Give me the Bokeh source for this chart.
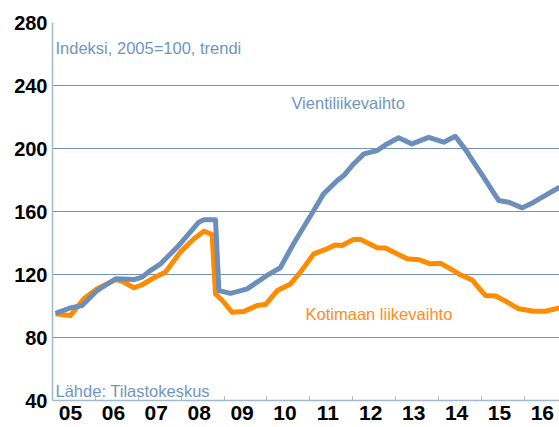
from bokeh.plotting import figure
from bokeh.models import FixedTicker, Label, Range1d
from bokeh.embed import file_html
from bokeh.resources import INLINE

# Vientiliikevaihto (export turnover), decimal year / index
export_t = [2005.07, 2005.42, 2005.69, 2006.04, 2006.47, 2006.90, 2007.09, 2007.28, 2007.52,
            2007.91, 2008.18, 2008.41, 2008.53, 2008.80, 2008.88, 2009.15, 2009.54, 2010.00,
            2010.31, 2010.62, 2011.09, 2011.32, 2011.64, 2011.79, 2012.02, 2012.26, 2012.57,
            2012.80, 2013.07, 2013.38, 2013.77, 2014.12, 2014.39, 2014.67, 2014.74, 2015.05,
            2015.40, 2015.64, 2015.95, 2016.22, 2016.49, 2016.82]
export_v = [95.4, 98.8, 100.3, 109.8, 117.3, 116.8, 118.3, 122.5, 126.8,
            137.4, 145.9, 153.2, 154.7, 154.7, 109.8, 108.0, 110.9, 119.4,
            124.3, 139.5, 160.6, 171.2, 179.7, 182.8, 190.2, 196.6, 198.7,
            202.9, 206.8, 202.9, 207.1, 204.0, 207.8, 197.7, 194.5, 181.8,
            167.0, 165.9, 162.3, 165.9, 170.2, 175.4]

# Kotimaan liikevaihto (domestic turnover)
dom_t = [2005.07, 2005.42, 2005.73, 2006.04, 2006.47, 2006.59, 2006.90, 2007.09, 2007.36,
         2007.63, 2007.98, 2008.29, 2008.53, 2008.72, 2008.80, 2008.96, 2009.19, 2009.46,
         2009.77, 2009.97, 2010.24, 2010.55, 2010.78, 2011.09, 2011.40, 2011.60, 2011.75,
         2012.02, 2012.18, 2012.57, 2012.76, 2013.03, 2013.27, 2013.54, 2013.81, 2014.04,
         2014.28, 2014.51, 2014.78, 2015.09, 2015.33, 2015.60, 2015.87, 2016.22, 2016.49,
         2016.82]
dom_v = [95.0, 94.0, 104.6, 110.9, 116.6, 116.2, 111.6, 113.5, 117.9,
         121.5, 134.2, 142.6, 147.5, 145.4, 107.7, 103.5, 96.0, 96.5,
         100.3, 101.0, 109.8, 114.0, 121.5, 133.1, 136.3, 138.8, 138.4,
         142.3, 142.3, 137.0, 136.8, 133.2, 130.0, 129.4, 126.8, 127.2,
         123.6, 119.8, 116.6, 106.7, 106.3, 102.5, 98.2, 96.7, 96.7,
         98.8]

years = list(range(2005, 2017))
year_labels = ["05", "06", "07", "08", "09", "10", "11", "12", "13", "14", "15", "16"]
y_ticks = [40, 80, 120, 160, 200, 240, 280]

BLUE = "#6b8fba"
ORANGE = "#ff8c00"
GRID = "#7593b8"
AXIS = "#a3b7cf"
FONT = "Liberation Sans"

p = figure(width=559, height=427, output_backend="svg", toolbar_location=None,
           x_range=Range1d(2005.0, 2016.82), y_range=Range1d(40, 280),
           min_border_left=52, min_border_right=0, min_border_top=22, min_border_bottom=27)
p.outline_line_color = None
p.background_fill_color = "white"
p.border_fill_color = "white"

label_pos = [y + 0.42 for y in years]
p.xaxis.ticker = FixedTicker(ticks=label_pos, minor_ticks=years[1:])
p.xaxis.major_label_overrides = {pos: lab for pos, lab in zip(label_pos, year_labels)}
p.xaxis.major_tick_in = 0
p.xaxis.major_tick_out = 0
p.xaxis.minor_tick_in = 4
p.xaxis.minor_tick_out = 0
p.xaxis.minor_tick_line_color = AXIS
p.xaxis.axis_line_color = AXIS
p.xaxis.axis_line_width = 1.5
p.xaxis.major_label_text_font = FONT
p.xaxis.major_label_text_font_style = "bold"
p.xaxis.major_label_text_font_size = "21px"
p.xaxis.major_label_text_color = "black"
p.xaxis.major_label_standoff = 5

p.yaxis.ticker = FixedTicker(ticks=y_ticks)
p.yaxis.major_tick_in = 0
p.yaxis.major_tick_out = 0
p.yaxis.minor_tick_line_color = None
p.yaxis.axis_line_color = AXIS
p.yaxis.axis_line_width = 1.5
p.yaxis.major_label_text_font = FONT
p.yaxis.major_label_text_font_style = "bold"
p.yaxis.major_label_text_font_size = "20px"
p.yaxis.major_label_text_color = "black"
p.yaxis.major_label_standoff = 5

p.xgrid.grid_line_color = None
p.ygrid.grid_line_color = GRID
p.ygrid.grid_line_width = 1.2

p.line(dom_t, dom_v, line_color=ORANGE, line_width=5, line_join="round")
p.line(export_t, export_v, line_color=BLUE, line_width=5, line_join="round")

def add_label(x, y, text, color):
    p.add_layout(Label(x=x, y=y, text=text, text_color=color, text_font=FONT,
                       text_font_size="16.5px", text_baseline="middle", text_align="left"))

add_label(2005.07, 263.5, "Indeksi, 2005=100, trendi", "#7096c0")
add_label(2010.57, 228.6, "Vientiliikevaihto", "#7096c0")
add_label(2010.90, 95.2, "Kotimaan liikevaihto", "#ff8c1a")
add_label(2005.07, 46.3, "Lähde: Tilastokeskus", "#7096c0")

open("out.html", "w").write(file_html(p, INLINE))
